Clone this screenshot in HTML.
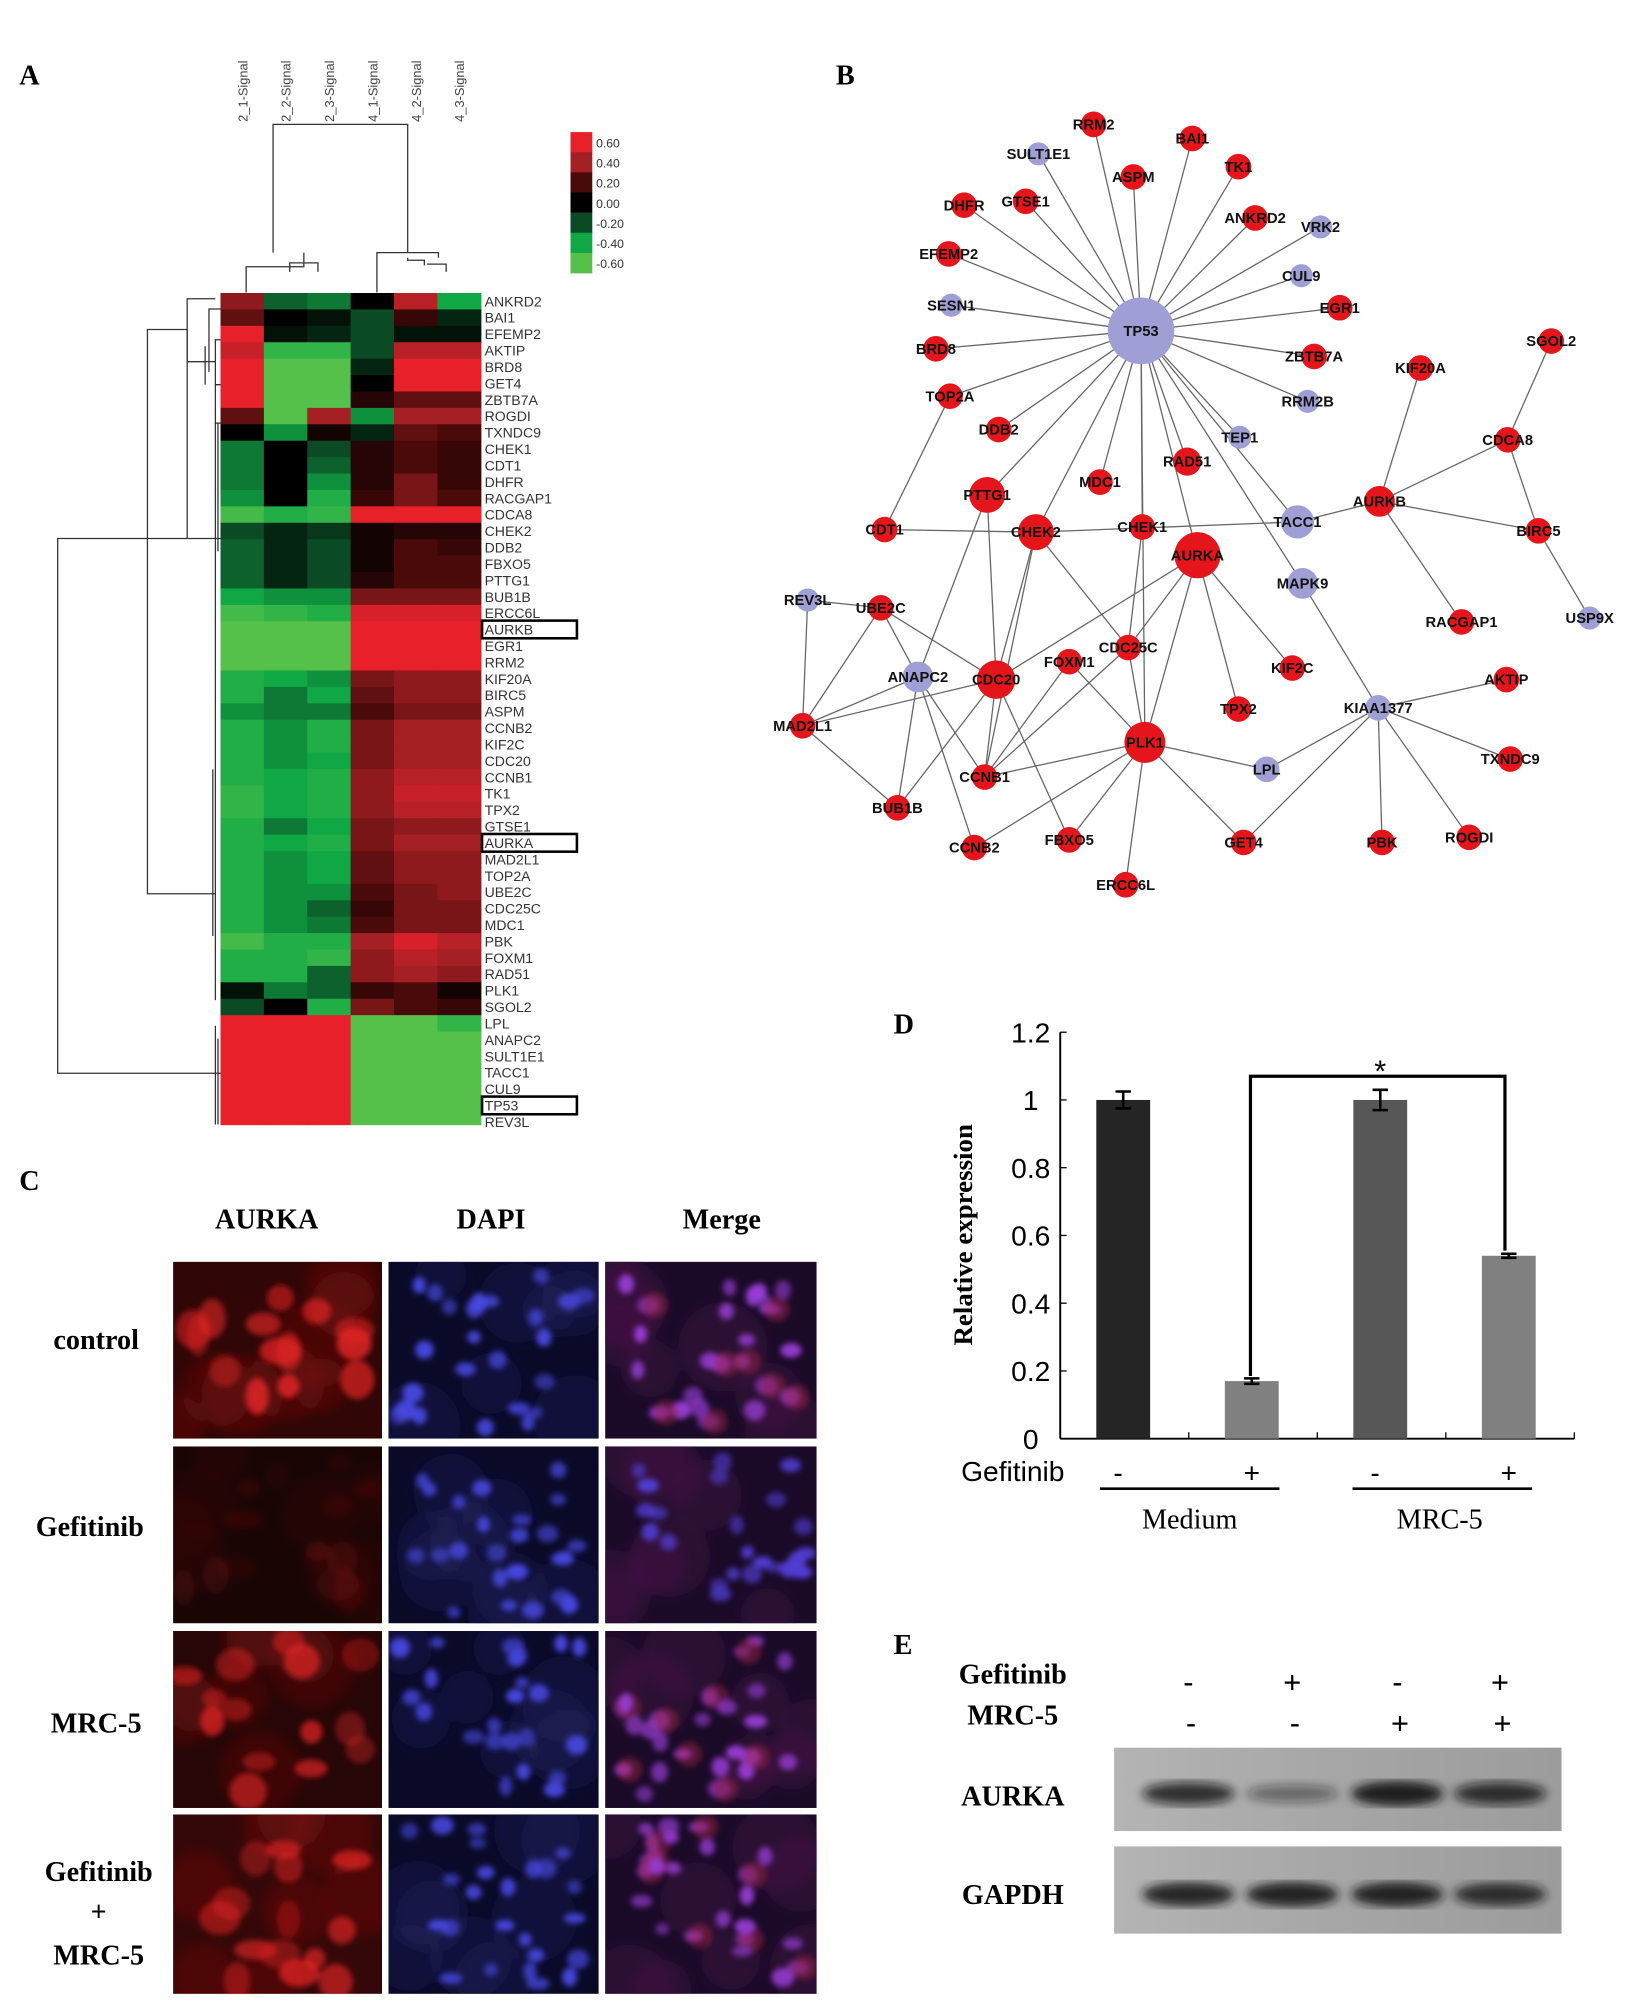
<!DOCTYPE html>
<html><head><meta charset="utf-8"><style>
html,body{margin:0;padding:0;background:#fff;}
svg{display:block;}
.lab{font-family:"Liberation Serif",serif;font-weight:bold;}
.sans{font-family:"Liberation Sans",sans-serif;}
</style></head><body>
<svg id="fig" width="1641" height="2008" viewBox="0 0 1280 1566" preserveAspectRatio="none" xmlns="http://www.w3.org/2000/svg">
<defs>
<filter id="blur2"><feGaussianBlur stdDeviation="2.2"/></filter>
<filter id="blur4"><feGaussianBlur stdDeviation="4"/></filter>
<linearGradient id="blotGrad" x1="0" x2="1" y1="0" y2="0"><stop offset="0" stop-color="#b4b4b4"/><stop offset="0.5" stop-color="#a6a6a6"/><stop offset="1" stop-color="#9c9c9c"/></linearGradient>
</defs>
<g id="panelA">
<text class="lab" x="15" y="66" font-size="22">A</text>
<g id="colLabels"></g>
<g id="dendroTop" stroke="#333" stroke-width="1" fill="none">
<path d="M213 197V97H318V197"/>
<path d="M192 228V208H237V197"/><path d="M226 212V205H248V212"/>
<path d="M294 228V197H342V201"/><path d="M318 201V203H331V207"/><path d="M333 206H348V212"/>
</g>
<g id="dendroLeft" stroke="#333" stroke-width="1" fill="none">
<path d="M172 420H45V837H172"/>
<path d="M146 257H146M146 257V420"/>
<path d="M168 233H146V282H168"/>
<path d="M188 229H179V245H200M186 241H163V290"/>
<path d="M178 265H168V300H172M168 282H168"/>
<path d="M146 282H160M160 270V300"/>
<path d="M115 420V257H146"/>
<path d="M115 420V697H168"/>
<path d="M168 300V330H172"/>
<path d="M168 330V780"/><path d="M166 600V730"/><path d="M170 330V430"/>
<path d="M168 800V877"/><path d="M170 810V877"/>
</g>
<g id="heatmap"></g>
<g id="rowLabels"></g>
<g id="hmLegend"></g>
</g>

<g id="panelB">
<text class="lab" x="652" y="66" font-size="22">B</text>
<g id="edges" stroke="#666" stroke-width="1"></g>
<g id="nodes"></g>
</g>

<g id="panelC">
<text class="lab" x="15" y="928" font-size="22">C</text>
<text class="lab" x="208" y="958" font-size="22" text-anchor="middle">AURKA</text>
<text class="lab" x="383" y="958" font-size="22" text-anchor="middle">DAPI</text>
<text class="lab" x="563" y="958" font-size="22" text-anchor="middle">Merge</text>
<text class="lab" x="75" y="1052" font-size="22" text-anchor="middle">control</text>
<text class="lab" x="70" y="1198" font-size="22" text-anchor="middle">Gefitinib</text>
<text class="lab" x="75" y="1351" font-size="22" text-anchor="middle">MRC-5</text>
<text class="lab" x="77" y="1467" font-size="22" text-anchor="middle">Gefitinib</text>
<text class="lab" x="77" y="1498" font-size="22" text-anchor="middle">+</text>
<text class="lab" x="77" y="1532" font-size="22" text-anchor="middle">MRC-5</text>
<g id="micro"></g>
</g>

<g id="panelD">
<text class="lab" x="697" y="806" font-size="22">D</text>
<text class="lab" transform="translate(758,963) rotate(-90)" font-size="21" text-anchor="middle">Relative expression</text>
<g id="barChart"></g>
</g>

<g id="panelE">
<text class="lab" x="697" y="1290" font-size="22">E</text>
<text class="lab" x="790" y="1313" font-size="22" text-anchor="middle">Gefitinib</text>
<text class="lab" x="790" y="1345" font-size="22" text-anchor="middle">MRC-5</text>
<text class="lab" x="790" y="1408" font-size="22" text-anchor="middle">AURKA</text>
<text class="lab" x="790" y="1485" font-size="22" text-anchor="middle">GAPDH</text>
<g id="blot"></g>
</g>
</svg>
<script>
// ---------- Panel A heatmap data ----------
const hmCols = ["2_1-Signal","2_2-Signal","2_3-Signal","4_1-Signal","4_2-Signal","4_3-Signal"];
const hmRows = ["ANKRD2","BAI1","EFEMP2","AKTIP","BRD8","GET4","ZBTB7A","ROGDI","TXNDC9","CHEK1","CDT1","DHFR","RACGAP1","CDCA8","CHEK2","DDB2","FBXO5","PTTG1","BUB1B","ERCC6L","AURKB","EGR1","RRM2","KIF20A","BIRC5","ASPM","CCNB2","KIF2C","CDC20","CCNB1","TK1","TPX2","GTSE1","AURKA","MAD2L1","TOP2A","UBE2C","CDC25C","MDC1","PBK","FOXM1","RAD51","PLK1","SGOL2","LPL","ANAPC2","SULT1E1","TACC1","CUL9","TP53","REV3L"];
const hmValues = [
[0.35,-0.25,-0.3,0.0,0.45,-0.4],[0.25,0.0,-0.05,-0.2,0.15,-0.1],[0.6,-0.05,-0.1,-0.2,-0.05,-0.05],
[0.5,-0.5,-0.5,-0.2,0.45,0.45],[0.6,-0.6,-0.6,-0.1,0.6,0.6],[0.6,-0.6,-0.6,0.0,0.6,0.6],
[0.6,-0.6,-0.6,0.1,0.25,0.25],[0.25,-0.6,0.4,-0.35,0.4,0.4],[0.0,-0.35,0.05,-0.1,0.25,0.2],
[-0.3,0.0,-0.2,0.1,0.2,0.15],[-0.3,0.0,-0.25,0.1,0.2,0.15],[-0.3,0.0,-0.35,0.1,0.3,0.15],
[-0.35,0.0,-0.45,0.15,0.3,0.2],[-0.55,-0.45,-0.5,0.6,0.6,0.6],[-0.2,-0.1,-0.15,0.05,0.1,0.1],
[-0.25,-0.1,-0.2,0.05,0.2,0.15],[-0.25,-0.1,-0.2,0.05,0.2,0.2],[-0.25,-0.1,-0.2,0.1,0.2,0.2],
[-0.4,-0.35,-0.35,0.3,0.3,0.3],[-0.55,-0.5,-0.45,0.55,0.55,0.55],[-0.6,-0.6,-0.6,0.6,0.6,0.6],
[-0.6,-0.6,-0.6,0.6,0.6,0.6],[-0.6,-0.6,-0.6,0.6,0.6,0.6],[-0.45,-0.4,-0.35,0.3,0.35,0.35],
[-0.45,-0.3,-0.4,0.25,0.35,0.35],[-0.35,-0.3,-0.3,0.2,0.3,0.3],[-0.45,-0.35,-0.45,0.3,0.4,0.4],
[-0.45,-0.35,-0.45,0.3,0.4,0.4],[-0.45,-0.35,-0.4,0.3,0.4,0.4],[-0.45,-0.4,-0.45,0.35,0.45,0.45],
[-0.5,-0.4,-0.45,0.35,0.5,0.5],[-0.5,-0.4,-0.45,0.35,0.45,0.45],[-0.45,-0.3,-0.4,0.3,0.35,0.35],
[-0.45,-0.4,-0.45,0.3,0.4,0.4],[-0.45,-0.35,-0.4,0.25,0.35,0.35],[-0.45,-0.35,-0.4,0.25,0.35,0.35],
[-0.45,-0.35,-0.35,0.2,0.3,0.35],[-0.45,-0.35,-0.25,0.15,0.3,0.3],[-0.45,-0.35,-0.3,0.2,0.3,0.3],
[-0.55,-0.45,-0.45,0.4,0.55,0.45],[-0.45,-0.45,-0.5,0.35,0.45,0.4],[-0.45,-0.45,-0.25,0.35,0.4,0.35],
[-0.05,-0.3,-0.25,0.15,0.2,0.05],[-0.2,0.0,-0.45,0.3,0.2,0.15],[0.6,0.6,0.6,-0.6,-0.6,-0.5],
[0.6,0.6,0.6,-0.6,-0.6,-0.6],[0.6,0.6,0.6,-0.6,-0.6,-0.6],[0.6,0.6,0.6,-0.6,-0.6,-0.6],
[0.6,0.6,0.6,-0.6,-0.6,-0.6],[0.6,0.6,0.6,-0.6,-0.6,-0.6],[0.6,0.6,0.6,-0.6,-0.6,-0.6]];
const legendTicks = ["0.60","0.40","0.20","0.00","-0.20","-0.40","-0.60"];
const boxedGenes = ["AURKB","AURKA","TP53"];

// ---------- Panel D bar data ----------
const barCategories = ["Medium -","Medium +","MRC-5 -","MRC-5 +"];
const barValues = [1.0,0.17,1.0,0.54];
const barErrors = [0.025,0.008,0.03,0.006];
const yTicks = [0,0.2,0.4,0.6,0.8,1,1.2];
const yTickLabels = ["0","0.2","0.4","0.6","0.8","1","1.2"];
const gefitinibSigns = ["-","+","-","+"];

// ---------- Panel E blot data ----------
const aurkaBand = [0.8,0.45,0.95,0.8];
const gapdhBand = [0.9,0.92,0.92,0.85];
const blotGef = ["-","+","-","+"];
const blotMrc = ["-","-","+","+"];

const NS="http://www.w3.org/2000/svg";
function mk(tag,attrs,parent){const e=document.createElementNS(NS,tag);for(const k in attrs)e.setAttribute(k,attrs[k]);if(parent)parent.appendChild(e);return e;}

const stops=[[-0.6,[85,192,74]],[-0.4,[16,168,69]],[-0.2,[10,74,37]],[0,[0,0,0]],[0.2,[74,10,10]],[0.4,[165,32,37]],[0.6,[232,32,42]]];
function cmap(v){v=Math.max(-0.6,Math.min(0.6,v));for(let i=0;i<stops.length-1;i++){const a=stops[i],b=stops[i+1];if(v<=b[0]){const t=(v-a[0])/(b[0]-a[0]);const c=a[1].map((x,j)=>Math.round(x+(b[1][j]-x)*t));return `rgb(${c})`;}}return "rgb(232,32,42)";}

const hmX0=172,hmW=203,hmY0=228.5,rowH=12.8,hmYmax=877;
const colW=hmW/hmCols.length;
const xCol=i=>hmX0+i*colW;
const yRow=i=>hmY0+i*rowH;
const hg=document.getElementById('heatmap');
hmValues.forEach((row,r)=>{row.forEach((v,c)=>{
  const y=yRow(r);const h=Math.min(rowH,hmYmax-y);if(h<=0)return;
  const cell=mk('rect',{x:xCol(c),y:y,width:colW+0.5,height:h+0.5,fill:cmap(v)},hg);
  
  
});});
const rl=document.getElementById('rowLabels');
hmRows.forEach((g,r)=>{
  const y=yRow(r)+rowH/2+4;if(y>hmYmax+4)return;
  const t=mk('text',{x:378,y:y,'font-size':11,fill:'#333',class:'sans'},rl);t.textContent=g;
  
  
  if(boxedGenes.includes(g)){const b=mk('rect',{x:376,y:yRow(r)-0.5,width:74,height:rowH+1,fill:'none',stroke:'#000','stroke-width':2},rl);
  
  }
});
const cl=document.getElementById('colLabels');
hmCols.forEach((c,i)=>{
  const x=xCol(i)+colW/2+4;
  const t=mk('text',{transform:`translate(${x},95) rotate(-90)`,'font-size':10,fill:'#444',class:'sans'},cl);t.textContent=c;
  
  
});
const lg=document.getElementById('hmLegend');
legendTicks.forEach((l,i)=>{
  const y=103+i*15.7;
  const r=mk('rect',{x:445,y:y,width:17,height:16,fill:cmap(parseFloat(l))},lg);
  
  
  const t=mk('text',{x:465,y:y+12,'font-size':9.5,fill:'#333',class:'sans'},lg);t.textContent=l;
  
  
});

// ---------- Panel B network ----------
const netNodes=[["TP53",890,258,26,"b"],["RRM2",853,97,10,"r"],["SULT1E1",810,120,9,"b"],["BAI1",930,108,10,"r"],["ASPM",884,138,10,"r"],["TK1",966,130,10,"r"],["DHFR",752,160,10,"r"],["GTSE1",800,157,10,"r"],["ANKRD2",979,170,10,"r"],["VRK2",1030,177,9,"b"],["EFEMP2",740,198,10,"r"],["CUL9",1015,215,9,"b"],["SESN1",742,238,9,"b"],["EGR1",1045,240,10,"r"],["BRD8",730,272,10,"r"],["ZBTB7A",1025,278,10,"r"],["TOP2A",741,309,10,"r"],["RRM2B",1020,313,9,"b"],["KIF20A",1108,287,10,"r"],["SGOL2",1210,266,10,"r"],["DDB2",779,335,10,"r"],["TEP1",967,341,9,"b"],["RAD51",926,360,11,"r"],["MDC1",858,376,10,"r"],["PTTG1",770,386,14,"r"],["CDCA8",1176,343,10,"r"],["AURKB",1076,391,12,"r"],["TACC1",1012,407,13,"b"],["CHEK2",808,415,14,"r"],["CHEK1",891,411,10,"r"],["CDT1",690,413,10,"r"],["BIRC5",1200,414,10,"r"],["AURKA",934,433,18,"r"],["MAPK9",1016,455,12,"b"],["REV3L",630,468,9,"b"],["UBE2C",687,474,10,"r"],["USP9X",1240,482,9,"b"],["RACGAP1",1140,485,10,"r"],["CDC25C",880,505,10,"r"],["FOXM1",834,516,10,"r"],["ANAPC2",716,528,12,"b"],["CDC20",777,530,15,"r"],["KIF2C",1008,521,10,"r"],["AKTIP",1175,530,10,"r"],["KIAA1377",1075,552,10,"b"],["TPX2",966,553,10,"r"],["MAD2L1",626,566,10,"r"],["PLK1",893,579,16,"r"],["LPL",988,600,10,"b"],["CCNB1",768,606,10,"r"],["TXNDC9",1178,592,10,"r"],["BUB1B",700,630,10,"r"],["PBK",1078,657,10,"r"],["ROGDI",1146,653,10,"r"],["GET4",970,657,10,"r"],["FBXO5",834,655,10,"r"],["CCNB2",760,661,10,"r"],["ERCC6L",878,690,10,"r"]];
const netEdges=[["TP53","RRM2"],["TP53","SULT1E1"],["TP53","BAI1"],["TP53","ASPM"],["TP53","TK1"],["TP53","DHFR"],["TP53","GTSE1"],["TP53","ANKRD2"],["TP53","VRK2"],["TP53","EFEMP2"],["TP53","CUL9"],["TP53","SESN1"],["TP53","EGR1"],["TP53","BRD8"],["TP53","ZBTB7A"],["TP53","TOP2A"],["TP53","RRM2B"],["TP53","DDB2"],["TP53","TEP1"],["TP53","RAD51"],["TP53","MDC1"],["TP53","PTTG1"],["TP53","CHEK2"],["TP53","CHEK1"],["TP53","AURKA"],["TP53","TACC1"],["TP53","MAPK9"],["TP53","PLK1"],["TOP2A","CDT1"],["AURKB","KIF20A"],["AURKB","CDCA8"],["AURKB","BIRC5"],["AURKB","RACGAP1"],["AURKB","TACC1"],["TACC1","CHEK2"],["CDCA8","SGOL2"],["CDCA8","BIRC5"],["BIRC5","USP9X"],["AURKA","KIF2C"],["AURKA","TPX2"],["AURKA","PLK1"],["AURKA","CDC25C"],["AURKA","CDC20"],["CHEK2","CDC25C"],["CHEK2","CDC20"],["CHEK2","CCNB1"],["CHEK2","CDT1"],["CHEK1","CDC25C"],["CDC25C","PLK1"],["CDC25C","CCNB1"],["PTTG1","CDC20"],["PTTG1","ANAPC2"],["FOXM1","PLK1"],["FOXM1","CCNB1"],["PLK1","CCNB1"],["PLK1","GET4"],["PLK1","ERCC6L"],["PLK1","FBXO5"],["KIAA1377","LPL"],["KIAA1377","AKTIP"],["KIAA1377","TXNDC9"],["KIAA1377","ROGDI"],["KIAA1377","PBK"],["KIAA1377","GET4"],["KIAA1377","MAPK9"],["REV3L","UBE2C"],["REV3L","MAD2L1"],["UBE2C","ANAPC2"],["UBE2C","CDC20"],["MAD2L1","CDC20"],["MAD2L1","BUB1B"],["MAD2L1","ANAPC2"],["MAD2L1","UBE2C"],["ANAPC2","BUB1B"],["ANAPC2","CCNB1"],["ANAPC2","CCNB2"],["BUB1B","CDC20"],["CDC20","FBXO5"],["CCNB2","PLK1"],["CDC20","CCNB1"],["LPL","PLK1"]];
const nodeMap={};netNodes.forEach(n=>nodeMap[n[0]]=n);
const eg=document.getElementById('edges');
netEdges.forEach(e=>{const a=nodeMap[e[0]],b=nodeMap[e[1]];
  const l=mk('line',{x1:a[1],y1:a[2],x2:b[1],y2:b[2]},eg);
  
  });
const ng=document.getElementById('nodes');
netNodes.forEach(n=>{
  const c=mk('circle',{cx:n[1],cy:n[2],r:n[3],fill:n[4]=="r"?"#e4151b":"#9f9fd6"},ng);
  
  
  const t=mk('text',{x:n[1],y:n[2]+4,'font-size':11.5,'font-weight':'bold','text-anchor':'middle',fill:'#111',class:'sans'},ng);t.textContent=n[0];
  
  
});

// ---------- Panel C micrographs ----------
const mg=document.getElementById('micro');
const defs=document.querySelector('defs');
const colsX=[[135,298],[303,467],[472,637]],rowsY=[[984,1122],[1128,1266],[1272,1410],[1415,1555]];
let seed=7;function rnd(){seed=(seed*16807)%2147483647;return seed/2147483647;}
const redBg=["#300606","#1a0505","#260606","#340808"],redInt=[0.9,0.12,0.75,0.85];
let clipId=0;
rowsY.forEach((ry,ri)=>{colsX.forEach((cx,ci)=>{
  const w=cx[1]-cx[0],h=ry[1]-ry[0];
  const cp=mk('clipPath',{id:'cp'+clipId},defs);
  mk('rect',{x:cx[0],y:ry[0],width:w,height:h},cp);
  const g=mk('g',{'clip-path':`url(#cp${clipId})`},mg);
  clipId++;
  
  
  const bg=ci==0?redBg[ri]:(ci==1?"#0a0a28":"#1a0a28");
  mk('rect',{x:cx[0],y:ry[0],width:w,height:h,fill:bg},g);
  const cg=mk('g',{filter:'url(#blur4)'},g);
  // soft cytoplasm texture
  for(let k=0;k<8;k++){
    const x=cx[0]+rnd()*w,y=ry[0]+rnd()*h;
    const col=ci==0?`rgba(140,20,20,${0.25*redInt[ri]+0.05})`:(ci==1?'rgba(30,30,90,0.4)':'rgba(70,20,70,0.4)');
    mk('circle',{cx:x,cy:y,r:20+rnd()*15,fill:col},cg);
  }
  const ng2=mk('g',{filter:'url(#blur2)'},g);
  const nCells=ci==0?14:24;
  for(let k=0;k<nCells;k++){
    const x=cx[0]+8+rnd()*(w-16),y=ry[0]+8+rnd()*(h-16);
    if(ci==0){const a=redInt[ri]*(0.4+rnd()*0.6);
      mk('ellipse',{cx:x,cy:y,rx:8+rnd()*9,ry:7+rnd()*9,fill:`rgba(225,35,35,${a})`},ng2);}
    else if(ci==1){mk('ellipse',{cx:x,cy:y,rx:5+rnd()*4,ry:4+rnd()*4,fill:`rgba(70,70,220,${0.6+rnd()*0.4})`},ng2);}
    else {mk('ellipse',{cx:x,cy:y,rx:5+rnd()*4,ry:4+rnd()*4,fill:`rgba(${ri==1?80:150},60,210,${0.6+rnd()*0.4})`},ng2);
      if(k%3==0&&ri!=1)mk('circle',{cx:x+5,cy:y,r:10,fill:'rgba(160,30,60,0.45)'},ng2);}
  }
});});

// ---------- Panel D bar chart ----------
const bc=document.getElementById('barChart');
const yAx0=1122,yAx1=805,xAx0=827,xAx1=1228;
const yS=v=>yAx0-(v/1.2)*(yAx0-yAx1);
const slotW=(xAx1-xAx0)/barValues.length;
const xC=i=>xAx0+slotW*(i+0.5)-1;
mk('line',{x1:xAx0,y1:yAx1,x2:xAx0,y2:yAx0,stroke:'#000','stroke-width':1.5},bc);
mk('line',{x1:xAx0,y1:yAx0,x2:xAx1,y2:yAx0,stroke:'#000','stroke-width':1.5},bc);
yTicks.forEach((v,i)=>{mk('line',{x1:xAx0,y1:yS(v),x2:xAx0+5,y2:yS(v),stroke:'#000'},bc);
  const t=mk('text',{x:804,y:yS(v)+8,'font-size':22,'text-anchor':'middle',class:'sans'},bc);t.textContent=yTickLabels[i];
  
  });
for(let i=1;i<=barValues.length;i++)mk('line',{x1:xAx0+slotW*i,y1:yAx0,x2:xAx0+slotW*i,y2:yAx0-5,stroke:'#000'},bc);
const barFill=["#252525","#808080","#575757","#808080"];
barValues.forEach((v,i)=>{
  const r=mk('rect',{x:xC(i)-21,y:yS(v),width:42,height:yAx0-yS(v),fill:barFill[i]},bc);
  
  
  const e=barErrors[i];
  mk('path',{d:`M${xC(i)-6} ${yS(v+e)}H${xC(i)+6}M${xC(i)} ${yS(v+e)}V${yS(v-e)}M${xC(i)-6} ${yS(v-e)}H${xC(i)+6}`,stroke:'#000','stroke-width':2,fill:'none'},bc);
  const s=mk('text',{x:xC(i)-4+(gefitinibSigns[i]=="+"?4:0),y:1156,'font-size':22,'text-anchor':'middle',class:'sans'},bc);s.textContent=gefitinibSigns[i];
  
  
});
const brY=yS(1.07);
mk('path',{d:`M${xC(1)-1} ${yS(barValues[1])-4}V${brY}H${xC(3)-3}V${yS(barValues[3])-4}`,stroke:'#000','stroke-width':2.5,fill:'none'},bc);
const st=mk('text',{x:(xC(1)+xC(3))/2,y:brY+4,'font-size':24,'text-anchor':'middle',class:'sans'},bc);st.textContent="*";


const gl=mk('text',{x:790,y:1155,'font-size':22,'text-anchor':'middle',class:'sans'},bc);gl.textContent="Gefitinib";


mk('line',{x1:858,y1:1161,x2:998,y2:1161,stroke:'#000','stroke-width':2},bc);
mk('line',{x1:1055,y1:1161,x2:1195,y2:1161,stroke:'#000','stroke-width':2},bc);
const m1=mk('text',{x:928,y:1192,'font-size':22,'text-anchor':'middle','font-family':'Liberation Serif, serif'},bc);m1.textContent="Medium";


const m2=mk('text',{x:1123,y:1192,'font-size':22,'text-anchor':'middle','font-family':'Liberation Serif, serif'},bc);m2.textContent="MRC-5";



// ---------- Panel E blot ----------
const bl=document.getElementById('blot');
const laneX=[927,1008,1090,1170];
blotGef.forEach((s,i)=>{const t=mk('text',{x:laneX[i],y:1320,'font-size':24,'text-anchor':'middle',class:'sans'},bl);t.textContent=s;
  
  });
blotMrc.forEach((s,i)=>{const t=mk('text',{x:laneX[i]+2,y:1352,'font-size':24,'text-anchor':'middle',class:'sans'},bl);t.textContent=s;
  
  });
function blotStrip(y0,h,vals,name){
  const r=mk('rect',{x:869,y:y0,width:349,height:h,fill:'url(#blotGrad)'},bl);
  
  
  const g=mk('g',{filter:'url(#blur4)'},bl);
  vals.forEach((v,i)=>{const b=mk('ellipse',{cx:laneX[i],cy:y0+h*0.55,rx:36,ry:4+6*v,fill:`rgba(20,20,20,${v})`},g);
    
    });
}
blotStrip(1363,65,aurkaBand,"aurka-blot");
blotStrip(1440,68,gapdhBand,"gapdh-blot");
</script>
</body></html>
